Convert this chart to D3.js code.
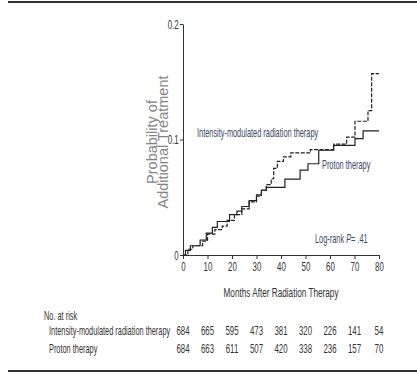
<!DOCTYPE html>
<meta charset="utf-8">
<head>
    <title>Additional treatment after radiation therapy</title>
    <script src="https://d3js.org/d3.v7.min.js"></script>
</head>

<style>
body { margin: 0; background: #fff; }
text { font-family: "Liberation Sans", Arial, sans-serif; }
.axis path, .axis line { stroke: #333; }
</style>

<body>
<svg></svg>

<script>

// months of follow-up shown on the x axis / risk table
let months = [0, 10, 20, 30, 40, 50, 60, 70, 80];
let riskImrt = [684, 665, 595, 473, 381, 320, 226, 141, 54];
let riskProton = [684, 663, 611, 507, 420, 338, 236, 157, 70];

// step curves (time in months, cumulative probability)
let imrtTime = [0, 2, 4, 8, 10, 13, 16, 18, 21, 24, 27, 30, 32, 34, 36, 37, 38.5, 41, 44, 52, 61.5, 66.8, 70.2, 75.5, 77, 80];
let imrtProb = [0, 0.005, 0.008, 0.012, 0.018, 0.022, 0.025, 0.03, 0.035, 0.04, 0.046, 0.051, 0.056, 0.061, 0.066, 0.075, 0.081, 0.085, 0.0885, 0.0913, 0.096, 0.102, 0.1158, 0.125, 0.157, 0.157];
let protonTime = [0, 1, 3, 7, 9.5, 12, 14, 19, 22, 24, 27, 30, 32, 34, 41.6, 47.8, 51, 55.4, 61.5, 70.2, 73.5, 80];
let protonProb = [0, 0.004, 0.008, 0.013, 0.019, 0.024, 0.029, 0.035, 0.038, 0.042, 0.047, 0.052, 0.056, 0.0585, 0.0657, 0.0735, 0.079, 0.0907, 0.095, 0.1008, 0.1075, 0.1075];

let yTicks = [0, 0.1, 0.2];

let W = 417, H = 376;
let SX = 0.63; // condensed look of the figure's type
let svg = d3.select("svg").attr("width", W).attr("height", H);

let x = d3.scaleLinear().domain([0, 80]).range([183, 379]);
let y = d3.scaleLinear().domain([0, 0.2]).range([255, 24]);

// condensed text helper
function label(px, py, str, size, anchor, color, sx) {
    return svg.append("text")
        .attr("transform", "translate(" + px + "," + py + ") scale(" + (sx || SX) + ",1)")
        .attr("font-size", size || 12.5)
        .attr("text-anchor", anchor || "start")
        .attr("fill", color || "#333")
        .text(str);
}

// rules top and bottom
svg.append("line").attr("x1", 8).attr("x2", W).attr("y1", 2).attr("y2", 2)
    .attr("stroke", "#333").attr("stroke-width", 2);
svg.append("line").attr("x1", 8).attr("x2", W).attr("y1", 371).attr("y2", 371)
    .attr("stroke", "#333").attr("stroke-width", 2);

// axes
let yAxis = svg.append("g").attr("class", "axis")
    .attr("transform", "translate(" + x(0) + ",0)")
    .call(d3.axisLeft(y).tickValues(yTicks).tickSize(3).tickSizeOuter(0)
        .tickFormat(d => d === 0 ? "0" : d3.format(".1f")(d)));
yAxis.selectAll("text").attr("font-size", 12.5).attr("x", -7)
    .attr("transform", "scale(" + SX + ",1)").attr("fill", "#333");

let xAxis = svg.append("g").attr("class", "axis")
    .attr("transform", "translate(0," + y(0) + ")")
    .call(d3.axisBottom(x).tickValues(months).tickSize(4).tickSizeOuter(0));
xAxis.selectAll("text").attr("font-size", 12.5).attr("y", 7)
    .attr("transform", "scale(" + SX + ",1)").attr("fill", "#333");

label(281, 297, "Months After Radiation Therapy", 13, "middle");

// y title
let yt = svg.append("text").attr("transform", "translate(157,142) rotate(-90)")
    .attr("text-anchor", "middle")
    .attr("font-size", 14.5).attr("fill", "#858585");
yt.append("tspan").attr("x", 0).attr("y", 0).text("Probability of");
yt.append("tspan").attr("x", 0).attr("y", 10.5).text("Additional Treatment");

// curves
let line = d3.line().curve(d3.curveStepAfter)
    .x(d => x(d[0])).y(d => y(d[1]));

svg.append("path").datum(d3.zip(protonTime, protonProb))
    .attr("d", line).attr("fill", "none").attr("stroke", "#222").attr("stroke-width", 1.2);
svg.append("path").datum(d3.zip(imrtTime, imrtProb))
    .attr("d", line).attr("fill", "none").attr("stroke", "#222").attr("stroke-width", 1.2)
    .attr("stroke-dasharray", "4,1.5");

// curve labels
let blue = "#3b4766";
let LS = 0.59;
label(197, 137, "Intensity-modulated radiation therapy", 12.5, "start", blue, LS);
label(322, 169, "Proton therapy", 12.5, "start", blue, LS);
let lr = label(315, 243, "", 12.5, "start", blue, LS);
lr.append("tspan").text("Log-rank ");
lr.append("tspan").attr("font-style", "italic").text("P");
lr.append("tspan").text("= .41");

// risk table
label(44, 320, "No. at risk", 12.5, "start", "#333", LS);
let rows = [["Intensity-modulated radiation therapy", riskImrt, 335], ["Proton therapy", riskProton, 353]];
rows.forEach(r => {
    label(49, r[2], r[0], 12.5, "start", "#333", LS);
    r[1].forEach((d, i) => label(x(months[i]), r[2], d, 12.5, "middle"));
});

</script>
</body>
